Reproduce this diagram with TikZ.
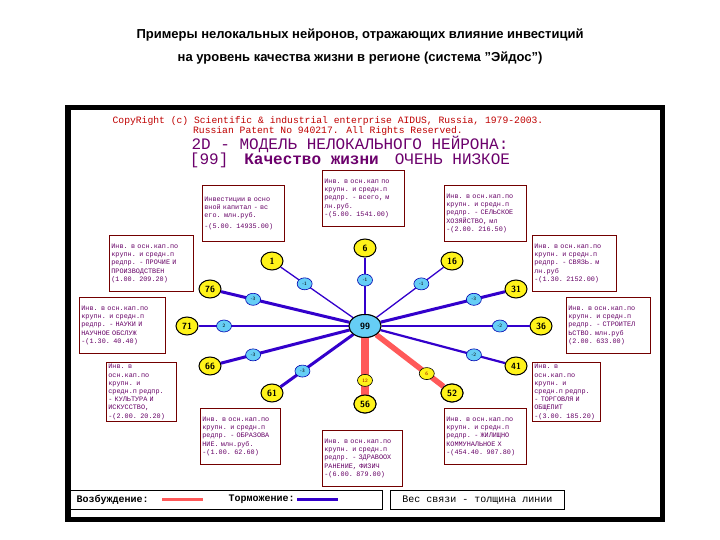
\documentclass[tikz,border=0pt]{standalone}
\usepackage{fontspec}
\usetikzlibrary{shapes.geometric}
\setmainfont{Liberation Sans}
\newfontfamily\monof{Liberation Mono}
\begin{document}
\begin{tikzpicture}[x=1pt,y=-1pt,
 outn/.style={ellipse,draw=black,fill=yellow!90!white,line width=1pt,minimum width=22pt,minimum height=18pt,inner sep=0pt,font=\sffamily\bfseries\small},
 wn/.style={ellipse,draw=blue!70!black,line width=0.6pt,fill=cyan!60,minimum width=15pt,minimum height=12pt,inner sep=0pt,font=\sffamily\tiny},
 wr/.style={ellipse,draw=black,line width=0.6pt,fill=yellow!90!white,minimum width=15pt,minimum height=12pt,inner sep=0pt,font=\sffamily\tiny,text=red!60!black},
 inh/.style={draw=blue!60!violet,line width=#1},
 exc/.style={draw=red!65,line width=#1},
 ibox/.style={draw=red!45!black,line width=0.8pt,anchor=north west,align=left,inner sep=2pt,font=\monof\fontsize{6.8}{8.2}\selectfont,text=violet!80!black,text width=#1,minimum height=56pt}]
\useasboundingbox (0,0) rectangle (720,540);
\fill[white] (0,0) rectangle (720,540);
\node[font=\bfseries\fontsize{13}{23}\selectfont,align=center] (title) at (360,47) {Примеры нелокальных нейронов, отражающих влияние инвестиций\\на уровень качества жизни в регионе (система "Эйдос")};
\fill[black] (65,105) rectangle (665,522);
\fill[white] (71,110) rectangle (660,517);
\node[font=\monof\fontsize{9.7}{10}\selectfont,text=red!75!black,align=center] (cp) at (328,126) {CopyRight (c) Scientific \& industrial enterprise AIDUS, Russia, 1979-2003.\\Russian Patent No 940217. All Rights Reserved.};
\node[font=\monof\fontsize{16}{15}\selectfont,text=violet!85!black,align=center] (hd) at (350,152) {2D - МОДЕЛЬ НЕЛОКАЛЬНОГО НЕЙРОНА:\\{[99]}\quad \textbf{Качество жизни}\quad ОЧЕНЬ НИЗКОЕ};
% boxes
\node[ibox=78pt] (b1) at (202,185) {Инвестиции в осно вной капитал - вс его. млн.руб.\\[3pt]-(5.00. 14935.00)};
\node[ibox=78pt] (b2) at (322,170) {Инв. в осн.кап по крупн. и средн.п редпр. - всего, м лн.руб.\\-(5.00. 1541.00)};
\node[ibox=78pt] (b3) at (444,185) {Инв. в осн.кап.по крупн. и средн.п редпр. - СЕЛЬСКОЕ ХОЗЯЙСТВО, мл\\-(2.00. 216.50)};
\node[ibox=80pt] (b4) at (109,235) {Инв. в осн.кап.по крупн. и средн.п редпр. - ПРОЧИЕ И ПРОИЗВОДСТВЕН\\ (1.00. 209.20)};
\node[ibox=80pt] (b5) at (532,235) {Инв. в осн.кап.по крупн. и средн.п редпр. - СВЯЗЬ. м лн.руб\\-(1.30. 2152.00)};
\node[ibox=82pt] (b6) at (79,297) {Инв. в осн.кап.по крупн. и средн.п редпр. - НАУКИ И НАУЧНОЕ ОБСЛУЖ\\-(1.30. 40.40)};
\node[ibox=80pt] (b7) at (566,297) {Инв. в осн.кап.по крупн. и средн.п редпр. - СТРОИТЕЛ ЬСТВО. млн.руб\\ (2.00. 633.00)};
\node[ibox=66pt] (b8) at (106,362) {Инв. в осн.кап.по крупн. и средн.п редпр. - КУЛЬТУРА И ИСКУССТВО,\\-(2.00. 20.20)};
\node[ibox=64pt] (b9) at (532,362) {Инв. в осн.кап.по крупн. и средн.п редпр. - ТОРГОВЛЯ И ОБЩЕПИТ\\-(3.00. 185.20)};
\node[ibox=76pt] (b10) at (200,408) {Инв. в осн.кап.по крупн. и средн.п редпр. - ОБРАЗОВА НИЕ. млн.руб.\\-(1.00. 62.60)};
\node[ibox=76pt] (b11) at (322,430) {Инв. в осн.кап.по крупн. и средн.п редпр. - ЗДРАВООХ РАНЕНИЕ, ФИЗИЧ\\-(6.00. 879.00)};
\node[ibox=78pt] (b12) at (444,408) {Инв. в осн.кап.по крупн. и средн.п редпр. - ЖИЛИЩНО КОММУНАЛЬНОЕ Х\\-(454.40. 907.80)};
% nodes
\node[outn] (n6) at (365,248) {6};
\node[outn] (n1) at (272,261) {1};
\node[outn] (n16) at (452,261) {16};
\node[outn] (n76) at (210,289) {76};
\node[outn] (n31) at (516,289) {31};
\node[outn] (n71) at (187,326) {71};
\node[outn] (n36) at (541,326) {36};
\node[outn] (n66) at (210,366) {66};
\node[outn] (n41) at (516,366) {41};
\node[outn] (n61) at (272,393) {61};
\node[outn] (n52) at (452,393) {52};
\node[outn] (n56) at (365,404) {56};
\node[ellipse,draw=black,fill=cyan!60,line width=1pt,minimum width=32pt,minimum height=23pt,inner sep=0pt,font=\sffamily\bfseries\small] (c) at (365,326) {99};
\draw[inh=1.3pt] (c) -- (n6) node[wn,pos=0.6] {-1};
\draw[inh=1.3pt] (c) -- (n1) node[wn,pos=0.67] {-1};
\draw[inh=1.3pt] (c) -- (n16) node[wn,pos=0.67] {-1};
\draw[inh=3pt] (c) -- (n76) node[wn,pos=0.75] {-3};
\draw[inh=3pt] (c) -- (n31) node[wn,pos=0.75] {-3};
\draw[inh=1.3pt] (c) -- (n71) node[wn,pos=0.83] {2};
\draw[inh=2.2pt] (c) -- (n36) node[wn,pos=0.8] {-2};
\draw[inh=3pt] (c) -- (n66) node[wn,pos=0.75] {-3};
\draw[inh=2.2pt] (c) -- (n41) node[wn,pos=0.75] {-2};
\draw[inh=3pt] (c) -- (n61) node[wn,pos=0.7] {-3};
\draw[exc=8pt] (c) -- (n56) node[wr,pos=0.75] {12};
\draw[exc=5.5pt] (c) -- (n52) node[wr,pos=0.75] {6};
\node[outn] at (n56) {56};
\node[outn] at (n52) {52};
\node[ellipse,draw=black,fill=cyan!60,line width=1pt,minimum width=32pt,minimum height=23pt,inner sep=0pt,font=\sffamily\bfseries\small] at (c) {99};
% legend
\node[draw=black,line width=0.8pt,minimum width=313pt,minimum height=19pt,anchor=north west] (lg1) at (69,490) {};
\node[draw=black,line width=0.8pt,minimum width=174pt,minimum height=19pt,anchor=north west] (lg2) at (390,490) {};
\node[font=\monof\bfseries\fontsize{10}{10}\selectfont,anchor=west] (t1) at (73,499.5) {Возбуждение:};
\coordinate (r1) at (162,499.5); \coordinate (r2) at (203,499.5);
\draw[exc=3pt] (r1) -- (r2);
\node[font=\monof\bfseries\fontsize{10}{10}\selectfont,anchor=west] (t2) at (225,499.5) {Торможение:};
\coordinate (s1) at (297,499.5); \coordinate (s2) at (338,499.5);
\draw[inh=3pt] (s1) -- (s2);
\node[font=\monof\fontsize{10}{10}\selectfont] (t3) at (lg2) {Вес связи - толщина линии};
\end{tikzpicture}
\end{document}
